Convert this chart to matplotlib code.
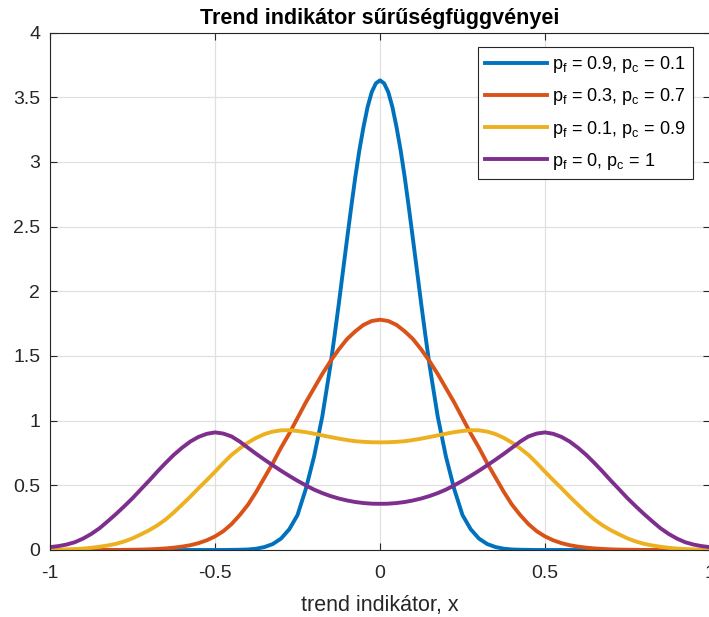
import numpy as np
from matplotlib import pyplot as plt

plt.rcParams['font.family'] = ['Liberation Sans', 'DejaVu Sans']
plt.rcParams['mathtext.fontset'] = 'custom'
plt.rcParams['mathtext.rm'] = 'Liberation Sans'
plt.rcParams['mathtext.it'] = 'Liberation Sans'

# left half of the x axis (-1 .. 0), the curves are symmetric around 0
x_half = list(np.linspace(-1, 0, 41))
# the narrow blue peak is read on a finer step near the top
x_blue_half = list(np.linspace(-1, -0.15, 35)) + list(np.linspace(-0.1375, 0, 12))

# values
blue_half = [0.0, 0.0, 0.0, 0.0, 0.0, 0.0, 0.0, 0.0, 0.0, 0.0,
             0.0, 0.0, 0.0, 0.0, 0.0, 0.0, 0.0, 0.0, 0.0, 0.0,
             0.0, 0.0, 0.001, 0.002, 0.004, 0.010, 0.023, 0.046, 0.088, 0.16,
             0.27, 0.47, 0.72, 1.03, 1.43,
             1.66, 1.90, 2.15, 2.40, 2.645, 2.88, 3.09, 3.27, 3.425, 3.54,
             3.607, 3.63]
orange_half = [0.0, 0.0, 0.0, 0.0, 0.0, 0.0, 0.0, 0.0, 0.0, 0.001,
               0.002, 0.003, 0.005, 0.008, 0.012, 0.018, 0.026, 0.037, 0.053, 0.075,
               0.105, 0.145, 0.20, 0.27, 0.35, 0.45, 0.56, 0.67, 0.79, 0.90,
               1.02, 1.14, 1.25, 1.36, 1.46, 1.55, 1.63, 1.69, 1.74, 1.77,
               1.78]
yellow_half = [0.002, 0.003, 0.005, 0.007, 0.011, 0.017, 0.025, 0.035, 0.048, 0.066,
               0.09, 0.12, 0.152, 0.19, 0.235, 0.29, 0.35, 0.412, 0.477, 0.54,
               0.605, 0.672, 0.735, 0.785, 0.83, 0.867, 0.896, 0.915, 0.925, 0.926,
               0.92, 0.911, 0.899, 0.886, 0.873, 0.861, 0.85, 0.841, 0.836, 0.833,
               0.832]
purple_half = [0.022, 0.03, 0.042, 0.06, 0.088, 0.124, 0.168, 0.222, 0.278, 0.338,
               0.40, 0.468, 0.535, 0.605, 0.672, 0.735, 0.79, 0.838, 0.874, 0.898,
               0.909, 0.90, 0.878, 0.838, 0.79, 0.743, 0.698, 0.655, 0.613, 0.573,
               0.535, 0.50, 0.467, 0.44, 0.417, 0.398, 0.383, 0.371, 0.363, 0.358,
               0.357]

labels = [r'p$_{\mathrm{f}}$ = 0.9, p$_{\mathrm{c}}$ = 0.1',
          r'p$_{\mathrm{f}}$ = 0.3, p$_{\mathrm{c}}$ = 0.7',
          r'p$_{\mathrm{f}}$ = 0.1, p$_{\mathrm{c}}$ = 0.9',
          r'p$_{\mathrm{f}}$ = 0, p$_{\mathrm{c}}$ = 1']
colors = ['#0072BD', '#D95319', '#EDB120', '#7E2F8E']


def mirror_x(xs):
    return list(xs) + [-v for v in xs[-2::-1]]


def mirror_y(ys):
    return list(ys) + list(ys[-2::-1])


series = [(x_blue_half, blue_half), (x_half, orange_half),
          (x_half, yellow_half), (x_half, purple_half)]

fig = plt.figure(figsize=(7.09, 6.17), dpi=100)
ax = fig.add_axes([50 / 709, 1 - 550 / 617, 660 / 709, 517.5 / 617])

for (xs, ys), c, lab in zip(series, colors, labels):
    ax.plot(mirror_x(xs), mirror_y(ys), color=c, lw=2.8, label=lab,
            solid_joinstyle='round')

ax.set_xlim(-1, 1)
ax.set_ylim(0, 4)
ax.set_xticks([-1, -0.5, 0, 0.5, 1])
ax.set_xticklabels(['-1', '-0.5', '0', '0.5', '1'])
ax.set_yticks([0, 0.5, 1, 1.5, 2, 2.5, 3, 3.5, 4])
ax.set_yticklabels(['0', '0.5', '1', '1.5', '2', '2.5', '3', '3.5', '4'])
ax.grid(True, color='#e0e0e0', lw=0.9)
ax.set_axisbelow(True)
for s in ax.spines.values():
    s.set_color('#262626')
    s.set_linewidth(0.8)
ax.tick_params(direction='in', length=5, width=0.8, top=True, right=True,
               colors='#262626', labelsize=14)
ax.tick_params(axis='x', pad=11)
ax.tick_params(axis='y', pad=7)

ax.set_title('Trend indikátor sűrűségfüggvényei', fontsize=15.5,
             fontweight='bold', pad=6)
ax.set_xlabel('trend indikátor, x', fontsize=15.5, color='#262626', labelpad=9)

leg = ax.legend(loc='upper right', bbox_to_anchor=(693 / 709, 1 - 47 / 617),
                bbox_transform=fig.transFigure, fontsize=13, fancybox=False,
                edgecolor='#262626', framealpha=1, handlelength=3.4,
                handletextpad=0.3, labelspacing=0.62, borderpad=0.4,
                borderaxespad=0)
leg.get_frame().set_linewidth(0.8)

plt.savefig('out.png', dpi=100)
